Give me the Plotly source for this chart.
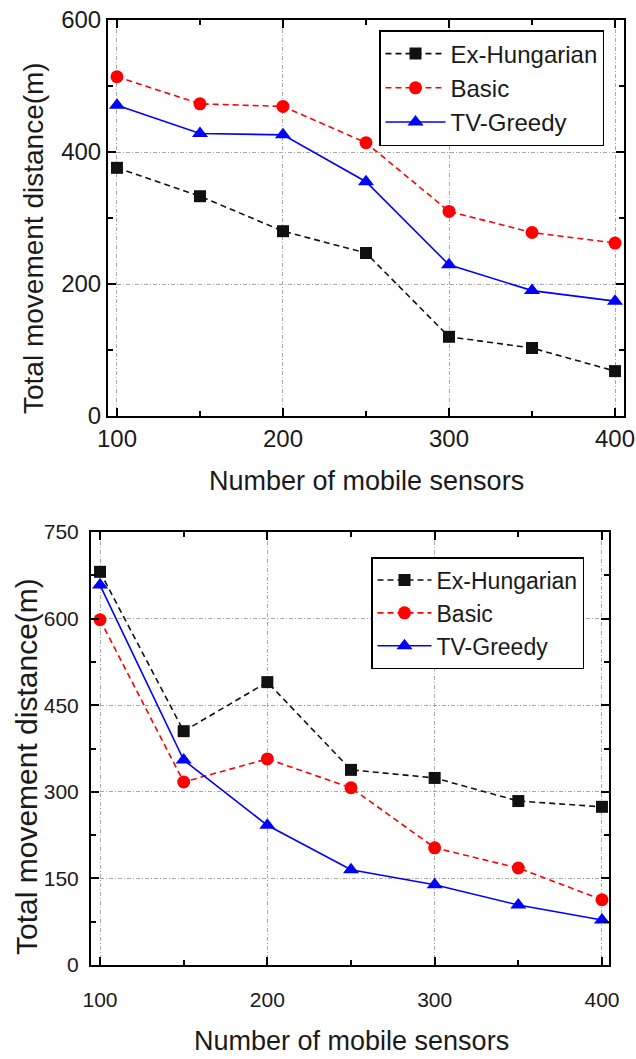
import plotly.graph_objects as go

W, H = 636, 1059

# Number of mobile sensors (shared x values)
sensors = [100, 150, 200, 250, 300, 350, 400]

# Panel (a): total movement distance (m)
a_ex_hungarian = [376, 333, 280, 247, 120, 103, 68]
a_basic = [514, 473, 469, 414, 310, 278, 262]
a_tv_greedy = [471, 428, 426, 355, 229, 190, 174]

# Panel (b): total movement distance (m)
b_ex_hungarian = [681, 405, 490, 338, 324, 284, 274]
b_basic = [598, 317, 357, 307, 203, 168, 113]
b_tv_greedy = [658, 355, 242, 165, 139, 104, 78]

series_names = ["Ex-Hungarian", "Basic", "TV-Greedy"]

FONT = "Liberation Sans, Arial, sans-serif"
TXT = "#1a1a1a"

styles = [
    dict(color="#111111", dash="6px,4px", symbol="square", size=12),
    dict(color="#ff0000", dash="6px,4px", symbol="circle", size=13),
    dict(color="#0000ff", dash="solid", symbol="triangle-up", size=14),
]


def px_x(p):
    return p / W


def px_y(p):
    return 1 - p / H


fig = go.Figure()

panels = [
    (("x", "y"), [a_ex_hungarian, a_basic, a_tv_greedy], "legend"),
    (("x2", "y2"), [b_ex_hungarian, b_basic, b_tv_greedy], "legend2"),
]

for (xa, ya), data, leg in panels:
    for name, vals, st in zip(series_names, data, styles):
        fig.add_trace(go.Scatter(
            x=sensors, y=vals, name=name, mode="lines+markers",
            xaxis=xa, yaxis=ya, legend=leg,
            line=dict(color=st["color"], width=1.6, dash=st["dash"]),
            marker=dict(symbol=st["symbol"], size=st["size"], color=st["color"],
                        line=dict(width=0)),
        ))

grid = dict(showgrid=True, gridcolor="#a8a8a8", gridwidth=1, griddash="4px,2px,1px,2px")
axis_common = dict(
    showline=True, linecolor="black", linewidth=2, mirror="allticks",
    ticks="inside", ticklen=8, tickwidth=1.5, tickcolor="black",
    zeroline=False, automargin=False, **grid,
)

fig.update_layout(
    width=W, height=H,
    margin=dict(l=0, r=0, t=0, b=0),
    paper_bgcolor="white", plot_bgcolor="white",
    showlegend=True,
    font=dict(family=FONT, color=TXT),
    xaxis=dict(
        domain=[px_x(108), px_x(624)], anchor="y",
        range=[94.6, 405.4], tickvals=[100, 200, 300, 400],
        tickfont=dict(size=24, family=FONT, color=TXT),
        minor=dict(tickvals=[150, 250, 350], ticklen=5, tickcolor="black",
                   ticks="inside", showgrid=False),
        **axis_common,
    ),
    yaxis=dict(
        domain=[px_y(416), px_y(20)], anchor="x",
        range=[0, 600], tickvals=[0, 200, 400, 600],
        tickfont=dict(size=24, family=FONT, color=TXT),
        minor=dict(tickvals=[100, 300, 500], ticklen=5, tickcolor="black",
                   ticks="inside", showgrid=False),
        **axis_common,
    ),
    xaxis2=dict(
        domain=[px_x(91), px_x(609)], anchor="y2",
        range=[94.6, 404.2], tickvals=[100, 200, 300, 400],
        tickfont=dict(size=21, family=FONT, color=TXT),
        ticklabelstandoff=15,
        minor=dict(tickvals=[150, 250, 350], ticklen=5, tickcolor="black",
                   ticks="inside", showgrid=False),
        **axis_common,
    ),
    yaxis2=dict(
        domain=[px_y(965), px_y(532)], anchor="x2",
        range=[0, 750], tickvals=[0, 150, 300, 450, 600, 750],
        tickfont=dict(size=21, family=FONT, color=TXT),
        ticklabelstandoff=6,
        minor=dict(tickvals=[75, 225, 375, 525, 675], ticklen=5, tickcolor="black",
                   ticks="inside", showgrid=False),
        **axis_common,
    ),
    legend=dict(
        x=px_x(379), y=px_y(30), xanchor="left", yanchor="top",
        bgcolor="white", bordercolor="black", borderwidth=1.5,
        font=dict(size=24, family=FONT, color=TXT),
        tracegroupgap=0, itemwidth=60,
    ),
    legend2=dict(
        x=px_x(371), y=px_y(557), xanchor="left", yanchor="top",
        bgcolor="white", bordercolor="black", borderwidth=1.5,
        font=dict(size=23, family=FONT, color=TXT),
        tracegroupgap=0, itemwidth=54,
    ),
)

annotations = [
    dict(text="Number of mobile sensors", x=px_x(366), y=px_y(481), size=27, angle=0),
    dict(text="Total movement distance(m)", x=px_x(33), y=px_y(238), size=28, angle=-90),
    dict(text="Number of mobile sensors", x=px_x(351), y=px_y(1041), size=27, angle=0),
    dict(text="Total movement distance(m)", x=px_x(26), y=px_y(767), size=30, angle=-90),
]
for a in annotations:
    fig.add_annotation(
        text=a["text"], x=a["x"], y=a["y"], xref="paper", yref="paper",
        xanchor="center", yanchor="middle", showarrow=False, textangle=a["angle"],
        font=dict(size=a["size"], family=FONT, color=TXT),
    )

fig.write_html("out.html")
